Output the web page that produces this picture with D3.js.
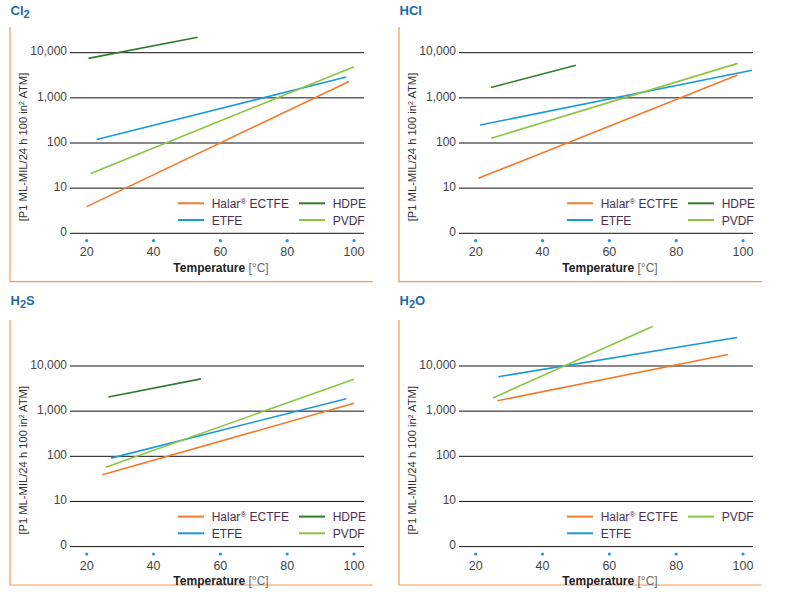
<!DOCTYPE html>
<html>
<head>
<meta charset="utf-8">
<script src="https://cdn.jsdelivr.net/npm/d3@7"></script>
<style>
  body { margin: 0; background: #fff; }
  svg { font-family: "Liberation Sans", Arial, sans-serif; }
</style>
</head>
<body>
<svg width="794" height="605"></svg>
<script>
// tick values / labels shared by all four panels
const xTicks = [20, 40, 60, 80, 100];
const yTicks = [1, 10, 100, 1000, 10000];
const yTickLabels = ["0", "10", "100", "1,000", "10,000"];

const seriesNames = ["Halar® ECTFE", "ETFE", "HDPE", "PVDF"];
const seriesColors = ["#f37a2b", "#1b9ad8", "#2f7a2f", "#8cc443"];

// each line is [temperature, permeation] at both ends
const cl2Halar = [[20, 3.9], [98.5, 2300]];
const cl2Etfe = [[23, 120], [97.7, 2900]];
const cl2Hdpe = [[20.5, 7500], [53.2, 21900]];
const cl2Pvdf = [[21.2, 21], [100, 4900]];

const hclHalar = [[20.8, 16.5], [98.4, 3200]];
const hclEtfe = [[21.3, 250], [102.7, 4100]];
const hclHdpe = [[24.6, 1700], [50, 5250]];
const hclPvdf = [[24.6, 127], [98.4, 5800]];

const h2sHalar = [[24.7, 39], [100, 1490]];
const h2sEtfe = [[27.3, 91], [97.7, 1890]];
const h2sHdpe = [[26.5, 2050], [54.2, 5180]];
const h2sPvdf = [[25.7, 57], [100, 5100]];

const h2oHalar = [[26.5, 1700], [95.5, 18000]];
const h2oEtfe = [[26.8, 5800], [98.2, 42600]];
const h2oPvdf = [[25.1, 1950], [72.9, 75000]];

const panels = [
    { title: ["Cl", "2", ""], x0: 10, y0: 0, top: 52.7, lines: [cl2Halar, cl2Etfe, cl2Hdpe, cl2Pvdf] },
    { title: ["HCl", "", ""], x0: 399, y0: 0, top: 52.7, lines: [hclHalar, hclEtfe, hclHdpe, hclPvdf] },
    { title: ["H", "2", "S"], x0: 10, y0: 290, top: 366, lines: [h2sHalar, h2sEtfe, h2sHdpe, h2sPvdf] },
    { title: ["H", "2", "O"], x0: 399, y0: 290, top: 366, lines: [h2oHalar, h2oEtfe, null, h2oPvdf] }
];

const svg = d3.select("svg");

function drawPanel(p) {
    let g = svg.append("g");
    let bottom = p.top + 180.6;
    let gx0 = p.x0 + 60, gx1 = p.x0 + 354;

    let x = d3.scaleLinear().domain([20, 100]).range([p.x0 + 76.7, p.x0 + 344]);
    let y = d3.scaleLog().domain([1, 10000]).range([bottom, p.top]);

    // title with subscript
    let t = g.append("text")
        .attr("x", p.x0 + 0.5)
        .attr("y", p.y0 + 15)
        .attr("fill", "#1f6aa8")
        .attr("font-weight", "bold")
        .attr("font-size", 13);
    t.append("tspan").text(p.title[0]);
    if (p.title[1]) {
        t.append("tspan").attr("dy", 3).attr("font-size", 11).text(p.title[1]);
        t.append("tspan").attr("dy", -3).text(p.title[2]);
    }

    // orange frame (left + bottom)
    let frameTop = p.y0 + (p.y0 == 0 ? 27 : 30);
    let frameBottom = p.y0 + 281.7 + (p.y0 == 0 ? 0 : 13.3);
    g.append("path")
        .attr("d", `M${p.x0},${frameTop}V${frameBottom}H${p.x0 + 362.7}`)
        .attr("fill", "none")
        .attr("stroke", "#f39a52")
        .attr("stroke-width", 1.2);

    // gridlines + y labels
    yTicks.forEach((v, i) => {
        g.append("line")
            .attr("x1", gx0).attr("x2", gx1)
            .attr("y1", y(v)).attr("y2", y(v))
            .attr("stroke", "#111").attr("stroke-width", 1);
        g.append("text")
            .attr("x", gx0 - 3)
            .attr("y", y(v) - 1.5)
            .attr("dy", "0.35em")
            .attr("text-anchor", "end")
            .attr("font-size", 12)
            .attr("fill", "#444")
            .text(yTickLabels[i]);
    });

    // x ticks: little blue dots with labels below
    xTicks.forEach(v => {
        g.append("circle")
            .attr("cx", x(v)).attr("cy", bottom + 7.4)
            .attr("r", 1.6).attr("fill", "#1b9ad8");
        g.append("text")
            .attr("x", x(v)).attr("y", bottom + 23)
            .attr("text-anchor", "middle")
            .attr("font-size", 12.5)
            .attr("fill", "#444")
            .text(v);
    });

    let xt = g.append("text")
        .attr("x", p.x0 + 211)
        .attr("y", bottom + 38.7)
        .attr("text-anchor", "middle")
        .attr("font-size", 12)
        .attr("fill", "#222");
    xt.append("tspan").attr("font-weight", "bold").text("Temperature ");
    xt.append("tspan").attr("fill", "#666").text("[°C]");

    // y axis title
    let yt = g.append("text")
        .attr("transform", `translate(${p.x0 + 17},${(p.top + bottom) / 2 + 4}) rotate(-90)`)
        .attr("text-anchor", "middle")
        .attr("font-size", 11.2)
        .attr("fill", "#333");
    yt.append("tspan").text("[P1 ML-MIL/24 h 100 in");
    yt.append("tspan").attr("dy", -3).attr("font-size", 7).text("2");
    yt.append("tspan").attr("dy", 3).text(" ATM]");

    // data lines
    let line = d3.line().x(d => x(d[0])).y(d => y(d[1]));
    p.lines.forEach((d, i) => {
        if (!d) return;
        g.append("path")
            .attr("d", line(d))
            .attr("fill", "none")
            .attr("stroke", seriesColors[i])
            .attr("stroke-width", 1.6);
    });

    // legend: 2 columns x 2 rows
    let slots = p.lines[2] ? [[0, 0], [0, 1], [1, 0], [1, 1]] : [[0, 0], [0, 1], null, [1, 0]];
    seriesNames.forEach((name, i) => {
        if (!p.lines[i]) return;
        let s = slots[i];
        let lx = gx0 + 108 + s[0] * 121;
        let ly = p.top + 150.6 + s[1] * 16.7;
        g.append("line")
            .attr("x1", lx).attr("x2", lx + 26)
            .attr("y1", ly).attr("y2", ly)
            .attr("stroke", seriesColors[i]).attr("stroke-width", 2);
        let lt = g.append("text")
            .attr("x", lx + 33.7).attr("y", ly + 4.5)
            .attr("font-size", 12)
            .attr("fill", "#4a3050");
        if (name.includes("®")) {
            lt.append("tspan").text("Halar");
            lt.append("tspan").attr("dy", -4).attr("font-size", 8).text("®");
            lt.append("tspan").attr("dy", 4).text(" ECTFE");
        } else {
            lt.text(name);
        }
    });
}

panels.forEach(drawPanel);
</script>
</body>
</html>
